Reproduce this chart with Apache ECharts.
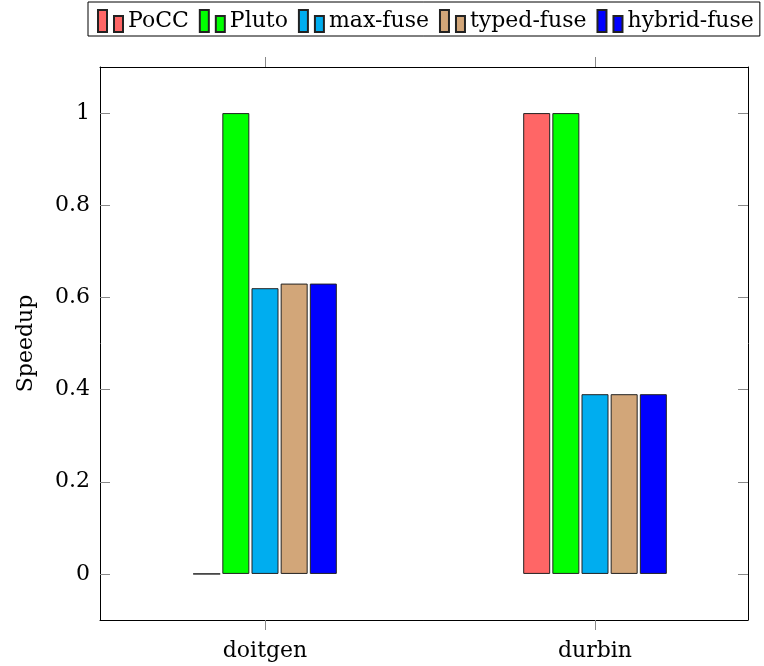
<!DOCTYPE html>
<html><head><meta charset="utf-8">
<script src="https://cdn.jsdelivr.net/npm/echarts@6/dist/echarts.min.js"></script>
<style>html,body{margin:0;padding:0;background:#fff}#c{width:764px;height:666px}</style>
</head><body><div id="c"></div>
<script>
const categories = ['doitgen', 'durbin'];
const seriesNames = ['PoCC', 'Pluto', 'max-fuse', 'typed-fuse', 'hybrid-fuse'];
const PoCC = [0, 1];
const Pluto = [1, 1];
const maxFuse = [0.62, 0.39];
const typedFuse = [0.63, 0.39];
const hybridFuse = [0.63, 0.39];
const yTicks = [0, 0.2, 0.4, 0.6, 0.8, 1];

const values = [PoCC, Pluto, maxFuse, typedFuse, hybridFuse];
const colors = ['#ff6666', '#00ff00', '#00adef', '#d2a679', '#0000ff'];
const font = 'DejaVu Serif';
const fs = 22;
const catPos = categories.map((c, i) => i);

const chart = echarts.init(document.getElementById('c'), null, {renderer: 'canvas'});
const xCommon = {
  type: 'value', min: -0.5, max: 1.4636,
  splitLine: {show: false},
  axisLine: {show: true, onZero: false, lineStyle: {color: '#000', width: 1}},
  axisTick: {show: true, inside: false, length: 10, customValues: catPos, lineStyle: {color: '#888'}},
};
const yCommon = {
  type: 'value', min: -0.1, max: 1.1,
  splitLine: {show: false},
  axisLine: {show: true, onZero: false, lineStyle: {color: '#000', width: 1}},
  axisTick: {show: true, inside: true, length: 10, customValues: yTicks, lineStyle: {color: '#888'}},
};
chart.setOption({
  animation: false,
  textStyle: {fontFamily: font},
  legend: {
    left: 88, top: 2, padding: [7, 6, 3, 9],
    borderColor: '#000', borderWidth: 1,
    itemWidth: 25, itemHeight: 22, itemGap: 10,
    icon: 'path://M0,0H9V22H0Z M16,6H25V22H16Z',
    textStyle: {fontFamily: font, fontSize: fs, color: '#000'},
    data: seriesNames
  },
  grid: {left: 100, right: 16, top: 67, bottom: 46},
  xAxis: [
    Object.assign({}, xCommon, {position: 'bottom',
      axisLabel: {show: true, customValues: catPos, margin: 20, fontFamily: font, fontSize: fs, color: '#000',
        formatter: v => categories[Math.round(v)]}}),
    Object.assign({}, xCommon, {position: 'top', axisLabel: {show: false}})
  ],
  yAxis: [
    Object.assign({}, yCommon, {position: 'left', name: 'Speedup', nameLocation: 'middle', nameGap: 63,
      nameTextStyle: {fontFamily: font, fontSize: fs, color: '#000'},
      axisLabel: {show: true, customValues: yTicks, margin: 10, fontFamily: font, fontSize: fs, color: '#000',
        formatter: v => String(Math.round(v * 10) / 10)}}),
    Object.assign({}, yCommon, {position: 'right', axisLabel: {show: false}})
  ],
  series: seriesNames.map((n, i) => ({
    name: n, type: 'bar', xAxisIndex: 0, yAxisIndex: 0,
    barWidth: 27, barGap: '8%',
    itemStyle: {color: colors[i], borderColor: '#222', borderWidth: 1},
    data: values[i].map((v, j) => [catPos[j], v])
  }))
});
</script></body></html>
